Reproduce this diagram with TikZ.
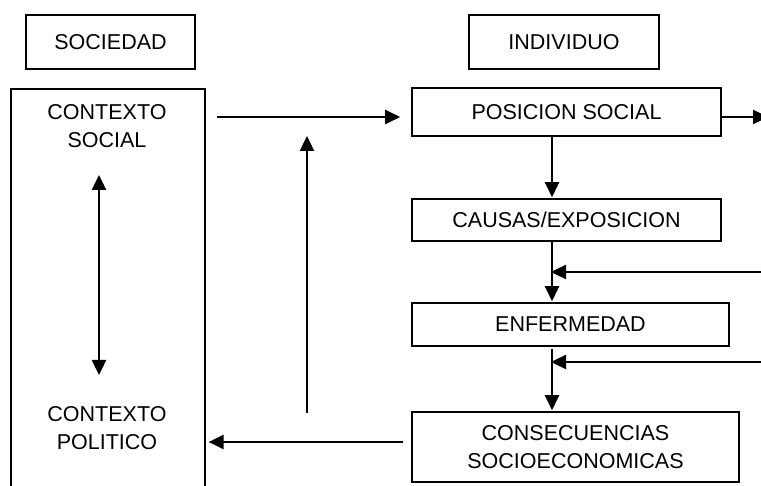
\documentclass[tikz,border=0pt]{standalone}
\usepackage{fontspec}
\setmainfont{Liberation Sans}
\usetikzlibrary{arrows.meta,calc}
\begin{document}
\begin{tikzpicture}[x=1pt,y=-1pt,
  every node/.style={font=\fontsize{21.5}{28}\selectfont, inner sep=0pt, align=center},
  box/.style={draw, line width=1.6pt, anchor=center},
  arr/.style={line width=2.4pt, -{Triangle[length=15pt,width=14pt]}},
  darr/.style={line width=2.4pt, {Triangle[length=15pt,width=14pt]}-{Triangle[length=15pt,width=14pt]}}]
\clip (0,0) rectangle (761,486);
\fill[white] (0,0) rectangle (761,486);
% header boxes
\node[box, minimum width=169pt, minimum height=54pt] (soc) at (110.5,42) {SOCIEDAD};
\node[box, minimum width=190pt, minimum height=54pt] (ind) at (564,42) {INDIVIDUO};
% big society box
\node[box, minimum width=194pt, minimum height=420pt, anchor=north west] (big) at (10,88) {};
\node (cs) at (107,126) {CONTEXTO\\SOCIAL};
\node (cp) at (107,428) {CONTEXTO\\POLITICO};
% individual boxes
\node[box, minimum width=309pt, minimum height=48pt] (pos) at (566.5,112) {POSICION SOCIAL};
\node[box, minimum width=309pt, minimum height=42pt] (cau) at (566.5,220) {CAUSAS/EXPOSICION};
\node[box, minimum width=317pt, minimum height=43pt] (enf) at (570.5,324.5) {ENFERMEDAD};
\node[box, minimum width=327pt, minimum height=70pt] (con) at (575.5,447) {CONSECUENCIAS\\SOCIOECONOMICAS};
% helper coordinates
\coordinate (vx) at (552,0);
\coordinate (dtop) at (99,175);
\coordinate (dbot) at (99,375);
\coordinate (topstart) at (217,117);
\coordinate (upbot) at (307,413);
\coordinate (uptop) at (307,136);
\coordinate (rightend) at (768,117);
\coordinate (in1) at (770,272);
\coordinate (in2) at (770,362);
\coordinate (polstart) at (403,442);
% connectors
\draw[darr] (dtop) -- (dbot);
\draw[arr, shorten >=11pt] (topstart) -- (pos.west |- topstart);
\draw[arr] (upbot) -- (uptop);
\draw[arr, shorten >=3pt] (polstart) -- (big.east |- polstart);
\draw[arr] (pos.east |- rightend) -- (rightend);
\draw[arr, shorten >=1pt] (pos.south -| vx) -- (cau.north -| vx);
\draw[arr, shorten >=1pt] (cau.south -| vx) -- (enf.north -| vx);
\draw[arr, shorten >=1pt, shorten <=2pt] (enf.south -| vx) -- (con.north -| vx);
\draw[arr, shorten >=-1pt] (in1) -- (in1 -| vx);
\draw[arr, shorten >=-1pt] (in2) -- (in2 -| vx);
\end{tikzpicture}
\end{document}
